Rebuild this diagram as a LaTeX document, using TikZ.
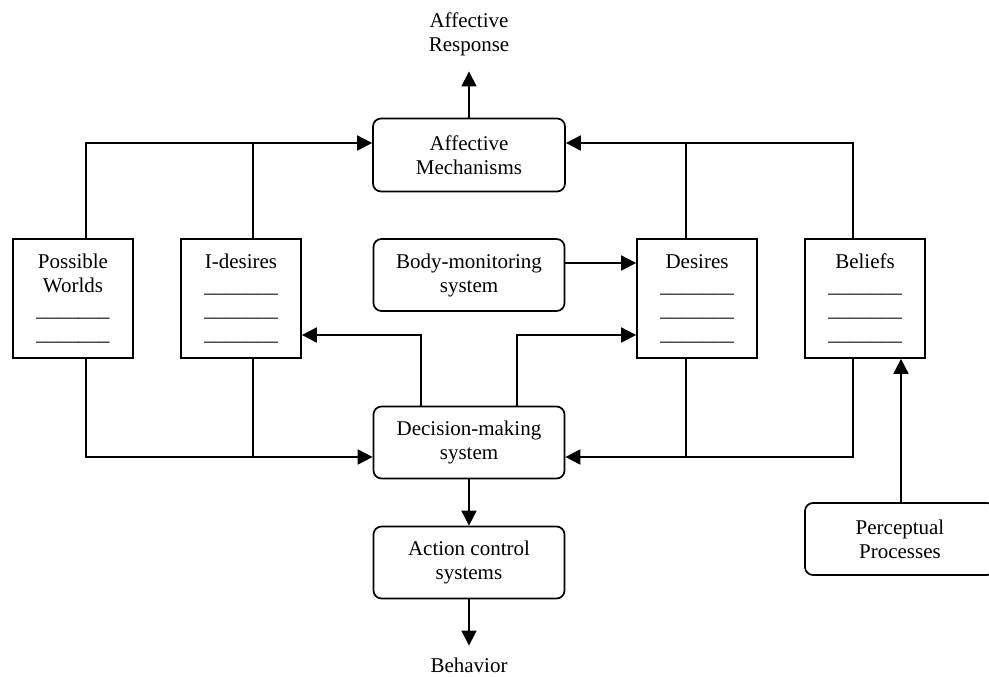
\documentclass[tikz,border=0pt]{standalone}
\usepackage{fontspec}
\setmainfont{Liberation Serif}
\usetikzlibrary{arrows.meta}
\newcommand{\blankline}{\_\_\_\_\_\_\_}
\begin{document}
\begin{tikzpicture}[x=1pt,y=-1pt,line width=1.7pt,
  every node/.style={font=\fontsize{21}{24}\selectfont,align=center,inner sep=0pt},
  rbox/.style={draw,rounded corners=8pt,minimum width=191pt,minimum height=72pt},
  sbox/.style={draw,minimum width=120pt,minimum height=119pt},
  arr/.style={-{Triangle[length=15pt,width=15pt]}}]
\useasboundingbox (0,0) rectangle (989,677);

% central column
\node[anchor=north] (ar) at (469,11.5) {Affective\\Response};
\node[rbox,minimum width=192pt,minimum height=73pt] (am) at (469,155) {Affective\\Mechanisms};
\node[rbox] (bm) at (469,275) {Body-monitoring\\system};
\node[rbox] (dm) at (469,442.5) {Decision-making\\system};
\node[rbox] (ac) at (469,562.5) {Action control\\systems};
\node[anchor=base] (beh) at (469,672) {Behavior};

% data stores
\node[sbox] (pw) at (73,298.5) {Possible\\Worlds\\\blankline\\\blankline};
\node[sbox] (id) at (241,298.5) {I-desires\\\blankline\\\blankline\\\blankline};
\node[sbox] (de) at (697,298.5) {Desires\\\blankline\\\blankline\\\blankline};
\node[sbox] (be) at (865,298.5) {Beliefs\\\blankline\\\blankline\\\blankline};

% perception
\node[rbox,minimum width=190pt] (pp) at (900,539) {Perceptual\\Processes};

% connection points
\coordinate (amL) at ([yshift=12pt]am.west);
\coordinate (amR) at ([yshift=12pt]am.east);
\coordinate (dmL) at ([yshift=-14.5pt]dm.west);
\coordinate (dmR) at ([yshift=-14.5pt]dm.east);
\coordinate (pwT) at ([xshift=13pt]pw.north);
\coordinate (pwB) at ([xshift=13pt]pw.south);
\coordinate (idT) at ([xshift=12pt]id.north);
\coordinate (idB) at ([xshift=12pt]id.south);
\coordinate (deT) at ([xshift=-11pt]de.north);
\coordinate (deB) at ([xshift=-11pt]de.south);
\coordinate (beT) at ([xshift=-12pt]be.north);
\coordinate (beB) at ([xshift=-12pt]be.south);
\coordinate (idIn) at ([yshift=-36.5pt]id.east);
\coordinate (deIn) at ([yshift=-36.5pt]de.west);
\coordinate (dmTL) at ([xshift=-48pt]dm.north);
\coordinate (dmTR) at ([xshift=48pt]dm.north);
\coordinate (bmR) at ([yshift=12pt]bm.east);
\coordinate (ppT) at ([xshift=1pt]pp.north);
\coordinate (behT) at ([yshift=11pt]beh.north);

% inputs to the affective mechanisms
\draw[arr] (pwT) |- (amL);
\draw (idT) -- (idT |- amL);
\draw[arr] (beT) |- (amR);
\draw (deT) -- (deT |- amR);
\draw[arr] (am.north) -- ([yshift=-15pt]ar.south);

% inputs to decision making
\draw[arr] (pwB) |- (dmL);
\draw (idB) -- (idB |- dmL);
\draw[arr] (beB) |- (dmR);
\draw (deB) -- (deB |- dmR);

% decision making updates desires
\draw[arr] (dmTL) |- (idIn);
\draw[arr] (dmTR) |- (deIn);

% body monitoring and perception
\draw[arr] (bmR) -- (bmR -| de.west);
\draw[arr] (ppT) -- (ppT |- be.south);

% action output
\draw[arr] (dm.south) -- (ac.north);
\draw[arr] (ac.south) -- (ac.south |- behT);
\end{tikzpicture}
\end{document}
